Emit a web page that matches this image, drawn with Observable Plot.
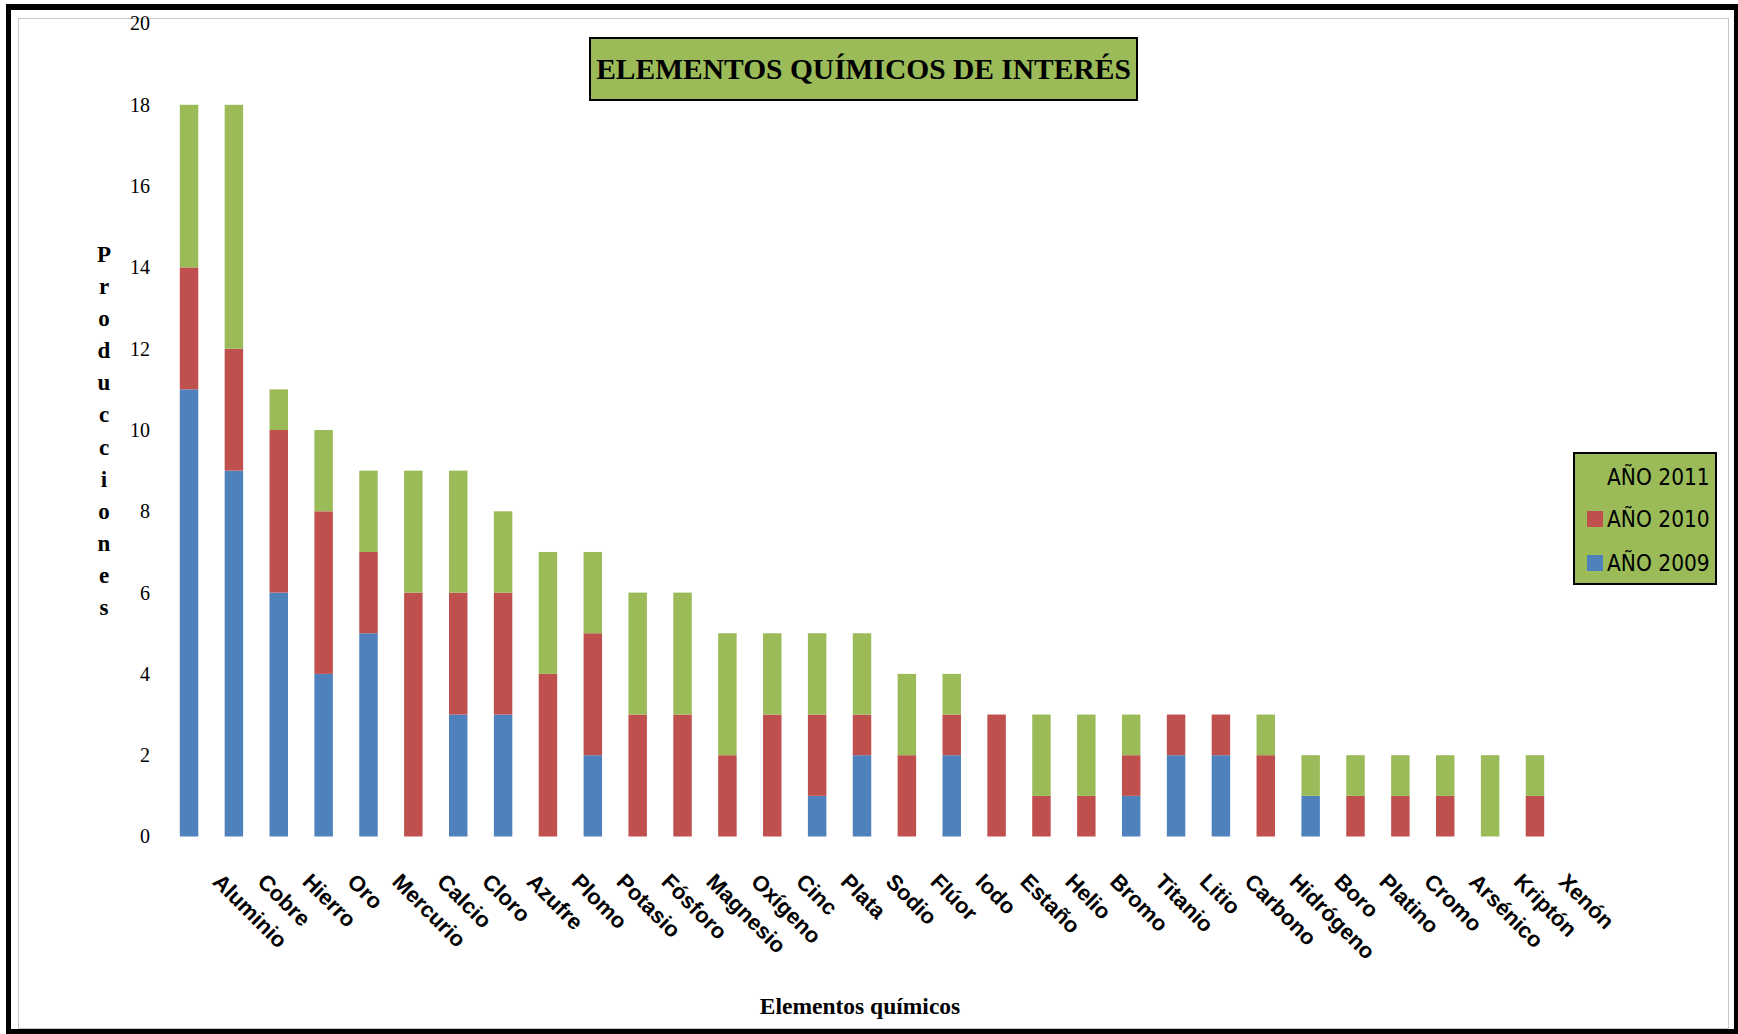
<!DOCTYPE html>
<html><head><meta charset="utf-8">
<script src="https://cdn.jsdelivr.net/npm/d3@7"></script>
<script src="https://cdn.jsdelivr.net/npm/@observablehq/plot@0.6"></script>
<style>
html,body{margin:0;padding:0;background:#fff;}
#wrap{position:relative;width:1738px;height:1034px;overflow:hidden;background:#fff;}
#outer{position:absolute;left:6px;top:4px;width:1732px;height:1030px;box-sizing:border-box;border-style:solid;border-color:#000;border-width:6px 4px 5px 5px;}
#inner{position:absolute;left:18px;top:18px;width:1711px;height:1011px;box-sizing:border-box;border:1.5px solid #c8c8c8;}
#chart{position:absolute;left:0;top:0;}
#title{position:absolute;left:589px;top:37px;width:549px;height:64px;box-sizing:border-box;background:#9BBB59;border:2.5px solid #000;display:flex;align-items:center;justify-content:center;font:bold 29.5px "Liberation Serif";color:#000;white-space:nowrap;}
#legend{position:absolute;left:1573px;top:452px;width:144px;height:133px;box-sizing:border-box;background:#9BBB59;border:2px solid #000;}
.item{position:absolute;left:12px;height:24px;display:flex;align-items:center;color:#000;white-space:nowrap;}
.sw{width:16px;height:16px;margin-right:4px;flex:none;}
.lt{display:inline-block;font:23.5px "DejaVu Sans";transform:scaleX(0.86);transform-origin:0 50%;line-height:24px;}
#ytitle{position:absolute;left:84px;top:239px;width:40px;text-align:center;font:bold 23px "Liberation Serif";line-height:32.1px;color:#000;}
#xtitle{position:absolute;left:660px;top:993px;width:400px;text-align:center;font:bold 23.5px "Liberation Serif";line-height:26px;color:#000;}
</style>
</head>
<body>
<div id="wrap">
  <div id="outer"></div>
  <div id="inner"></div>
  <div id="chart"></div>
  <div id="title">ELEMENTOS QUÍMICOS DE INTERÉS</div>
  <div id="legend"></div>
  <div id="ytitle"></div>
  <div id="xtitle">Elementos químicos</div>
</div>
<script>
const elements = ["Aluminio","Cobre","Hierro","Oro","Mercurio","Calcio","Cloro","Azufre","Plomo","Potasio","Fósforo","Magnesio","Oxígeno","Cinc","Plata","Sodio","Flúor","Iodo","Estaño","Helio","Bromo","Titanio","Litio","Carbono","Hidrógeno","Boro","Platino","Cromo","Arsénico","Kriptón","Xenón"];
const y2009 = [11, 9, 6, 4, 5, 0, 3, 3, 0, 2, 0, 0, 0, 0, 1, 2, 0, 2, 0, 0, 0, 1, 2, 2, 0, 1, 0, 0, 0, 0, 0];
const y2010 = [3, 3, 4, 4, 2, 6, 3, 3, 4, 3, 3, 3, 2, 3, 2, 1, 2, 1, 3, 1, 1, 1, 1, 1, 2, 0, 1, 1, 1, 0, 1];
const y2011 = [4, 6, 1, 2, 2, 3, 3, 2, 3, 2, 3, 3, 3, 2, 2, 2, 2, 1, 0, 2, 2, 1, 0, 0, 1, 1, 1, 1, 1, 2, 1];
const years = ["AÑO 2009", "AÑO 2010", "AÑO 2011"];
const colors = ["#4F81BD", "#C0504D", "#9BBB59"];
const yTicks = [0, 2, 4, 6, 8, 10, 12, 14, 16, 18, 20];
const yTitle = "Producciones";

const series = [y2009, y2010, y2011];
const data = elements.flatMap((e, i) => series.map((s, k) => ({element: e, year: years[k], value: s[i]})))
  .filter(d => d.value > 0);

const plot = Plot.plot({
  width: 1738, height: 1034,
  marginLeft: 166.6, marginRight: 180.6, marginTop: 23.5, marginBottom: 197.5,
  style: {fontFamily: "Liberation Serif", background: "transparent", color: "#000"},
  x: {domain: elements, padding: 0, round: false, axis: null},
  y: {domain: [0, 20], axis: null},
  color: {domain: years, range: colors},
  marks: [
    Plot.barY(data, {x: "element", y: "value", fill: "year", insetLeft: 13.2, insetRight: 13.2}),
    Plot.axisY({ticks: yTicks, tickSize: 0, tickPadding: 17, fontSize: 20, fontFamily: "Liberation Serif", label: null}),
    Plot.text(elements, {x: d => d, y: () => 0, text: d => d, rotate: 45, textAnchor: "start", lineAnchor: "top",
      dx: 33, dy: 35, fontSize: 22, fontWeight: "bold", fontFamily: "Liberation Sans", fill: "#000"})
  ]
});
document.getElementById("chart").append(plot);

// legend (top to bottom: 2011, 2010, 2009)
const legend = document.getElementById("legend");
const tops = [10.7, 53.3, 96.7];
[2, 1, 0].forEach((k, r) => {
  const it = document.createElement("div");
  it.className = "item";
  it.style.top = tops[r] + "px";
  const sw = document.createElement("div");
  sw.className = "sw";
  sw.style.background = colors[k];
  const t = document.createElement("span");
  t.className = "lt";
  t.textContent = years[k];
  it.append(sw, t);
  legend.append(it);
});

// vertical stacked y-axis title
const yt = document.getElementById("ytitle");
yt.innerHTML = yTitle.split("").map(c => `<div>${c}</div>`).join("");
</script>
</body></html>
